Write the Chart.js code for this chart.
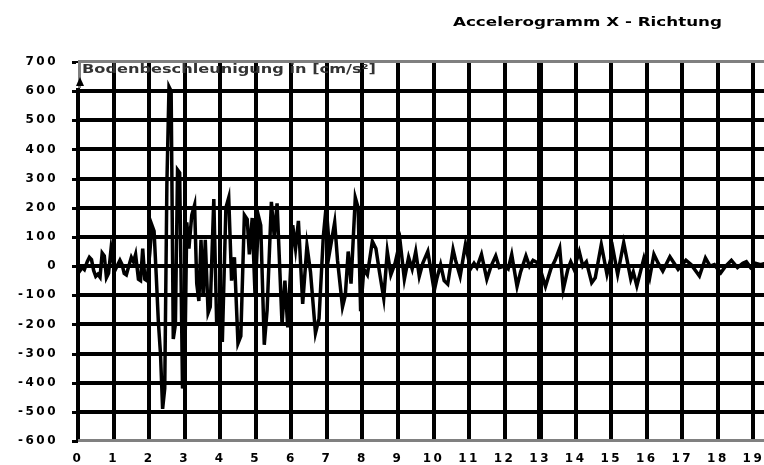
<!DOCTYPE html>
<html>
<head>
<meta charset="utf-8">
<script src="https://cdn.jsdelivr.net/npm/chart.js@4.4.0/dist/chart.umd.min.js"></script>
<style>
  html, body { margin: 0; padding: 0; background: #fff; overflow: hidden; }
  #wrap { position: relative; width: 800px; height: 465px; }
</style>
</head>
<body>
<div id="wrap"><canvas id="accChart"></canvas></div>
<script>
const chartTitle = 'Accelerogramm X - Richtung';
const axisLabel = 'Bodenbeschleunigung in [cm/s²]';

// time in s
const times = [
  0.00, 0.06, 0.12, 0.18, 0.26, 0.32, 0.38, 0.44, 0.50, 0.56, 0.62, 0.68, 0.74, 0.80, 0.86, 0.93, 0.98,
  1.04, 1.10, 1.18, 1.24, 1.30, 1.36, 1.44, 1.50, 1.56, 1.62, 1.70, 1.76, 1.82, 1.88, 1.94,
  2.02, 2.08, 2.14, 2.20, 2.26, 2.32, 2.38, 2.44, 2.50, 2.56, 2.62, 2.68, 2.74, 2.80, 2.86, 2.94,
  3.00, 3.06, 3.12, 3.20, 3.28, 3.34, 3.40, 3.46, 3.52, 3.58, 3.66, 3.72, 3.82, 3.90, 3.96,
  4.06, 4.16, 4.24, 4.32, 4.40, 4.50, 4.58, 4.68, 4.76, 4.82, 4.90, 4.98,
  5.08, 5.14, 5.24, 5.32, 5.44, 5.52, 5.60, 5.74, 5.82, 5.90,
  6.04, 6.12, 6.20, 6.32, 6.44, 6.54, 6.68, 6.78, 6.90, 6.98,
  7.08, 7.22, 7.30, 7.44, 7.52, 7.60, 7.68, 7.80, 7.88, 7.95,
  8.04, 8.14, 8.28, 8.38, 8.48, 8.60, 8.70, 8.80, 8.92,
  9.06, 9.18, 9.30, 9.40, 9.50, 9.60, 9.70, 9.84,
  10.02, 10.10, 10.20, 10.30, 10.40, 10.55, 10.62, 10.75, 10.90,
  11.04, 11.14, 11.22, 11.35, 11.50, 11.62, 11.75, 11.85,
  12.00, 12.10, 12.20, 12.35, 12.45, 12.60, 12.70, 12.80, 12.95,
  13.15, 13.30, 13.42, 13.55, 13.65, 13.78, 13.86, 13.95,
  14.10, 14.20, 14.30, 14.45, 14.55, 14.72, 14.88,
  15.05, 15.18, 15.35, 15.55, 15.62, 15.72, 15.92,
  16.08, 16.20, 16.32, 16.45, 16.65, 16.88,
  17.10, 17.25, 17.48, 17.65, 17.78, 17.90,
  18.08, 18.22, 18.38, 18.55, 18.70, 18.80, 18.92,
  19.05, 19.20, 19.35
];

// ground acceleration in cm/s²
const accel = [
  -5, -15, -5, -12, 15, 30, 22, -15, -35, -28, -38, 45, 35, -40, -25, 60, 20,
  -15, 0, 20, 5, -25, -30, 5, 30, 15, 40, -45, -50, 60, -45, -50,
  45, 140, 120, -30, -190, -300, -490, -420, 280, 615, 600, -250, -200, 330, 320, -420,
  -380, 150, 60, 175, 210, -60, -120, 90, -105, 90, -160, -140, 230, -195, -150,
  -260, 200, 235, -50, 30, -265, -240, 175, 160, 40, 165, -100,
  170, 140, -270, -150, 220, 100, 215, -200, -50, -210,
  140, 60, 155, -130, 70, -20, -230, -180, 100, 205,
  50, 150, 20, -140, -100, 50, -60, 235, 200, -155,
  -10, -30, 85, 60, -20, -110, 50, -30, 10,
  85, -45, 30, -10, 50, -35, 10, 50,
  -85, -40, 5, -50, -62, 57, 20, -35, 75,
  -10, 10, -5, 40, -45, 0, 35, -5,
  0, -10, 40, -70, -20, 35, 0, 20, 10,
  -70, -10, 20, 62, -80, -10, 15, -10,
  50, 0, 15, -57, -40, 74, -28,
  57, -28, 80, -45, -20, -68, 28,
  -40, 40, 10, -17, 32, -11,
  20, 5, -34, 28, 0, 5,
  -23, 0, 20, -5, 10, 15, -5,
  10, 5, 10
];

const xTicks = [0, 1, 2, 3, 4, 5, 6, 7, 8, 9, 10, 11, 12, 13, 14, 15, 16, 17, 18, 19];
const yTicks = [700, 600, 500, 400, 300, 200, 100, 0, -100, -200, -300, -400, -500, -600];

const GREY = '#808080';

// heavy black grid, grey frame lines top and bottom, short tick marks on the y axis
const gridPlugin = {
  id: 'heavyGrid',
  beforeDatasetsDraw(chart) {
    const { ctx, chartArea: a, scales: { x, y } } = chart;
    const top = Math.round(a.top);
    const bottom = Math.round(a.bottom);
    const left = Math.round(a.left);
    const right = Math.round(a.right);
    ctx.save();
    ctx.fillStyle = '#000';
    xTicks.forEach(v => {
      const px = Math.round(x.getPixelForValue(v));
      const w = v === 13 ? 6 : 4;
      ctx.fillRect(px - w / 2, top, w, bottom - top);
    });
    yTicks.forEach(v => {
      const py = Math.round(y.getPixelForValue(v));
      const edge = v === 700 || v === -600;
      ctx.fillStyle = edge ? GREY : '#000';
      ctx.fillRect(left, py - 2, right - left, edge ? 3 : 4);
      ctx.fillStyle = '#000';
      ctx.fillRect(left - 6, py - 1, 6, 3);
    });
    ctx.restore();
  }
};

// draw a string stretched horizontally to a given width
function wideText(ctx, text, x, y, width) {
  const w = ctx.measureText(text).width;
  ctx.save();
  ctx.translate(x, y);
  ctx.scale(width / w, 1);
  ctx.fillText(text, 0, 0);
  ctx.restore();
}

// title, axis caption and the little arrow at the top of the y axis
const decorPlugin = {
  id: 'decor',
  beforeDraw(chart) {
    chart.ctx.letterSpacing = '2.5px';
  },
  afterDraw(chart) {
    const ctx = chart.ctx;
    const area = chart.chartArea;
    const y600 = Math.round(chart.scales.y.getPixelForValue(600));
    const left = Math.round(area.left);
    const top = Math.round(area.top);
    ctx.save();
    ctx.letterSpacing = '0px';

    ctx.fillStyle = '#fff';
    ctx.fillRect(left - 2, top + 1, 5, y600 - top - 4);
    ctx.fillStyle = GREY;
    ctx.fillRect(left, top, 3, y600 - top - 3);
    ctx.fillStyle = '#000';
    ctx.beginPath();
    ctx.moveTo(left + 2, top + 15);
    ctx.lineTo(left + 6, top + 24);
    ctx.lineTo(left - 2, top + 24);
    ctx.closePath();
    ctx.fill();

    ctx.textBaseline = 'middle';
    ctx.textAlign = 'left';
    ctx.fillStyle = '#333';
    ctx.font = 'bold 12px "DejaVu Sans"';
    wideText(ctx, axisLabel, left + 4, top + 8, 294);

    ctx.fillStyle = '#000';
    ctx.font = 'bold 13px "DejaVu Sans"';
    wideText(ctx, chartTitle, 453, 23, 269);
    ctx.restore();
  }
};

const points = times.map((t, i) => ({ x: t, y: accel[i] }));

new Chart(document.getElementById('accChart'), {
  type: 'line',
  data: {
    datasets: [{
      data: points,
      borderColor: '#000',
      borderWidth: 3.5,
      pointRadius: 0,
      tension: 0,
      fill: false
    }]
  },
  options: {
    responsive: true,
    maintainAspectRatio: false,
    animation: false,
    devicePixelRatio: 1,
    layout: { padding: { top: 62, right: 0, bottom: 0, left: 0 } },
    plugins: {
      legend: { display: false },
      tooltip: { enabled: false },
      title: { display: false }
    },
    scales: {
      x: {
        type: 'linear',
        min: 0,
        max: 20.03,
        afterFit: s => { s.height = 24; },
        ticks: {
          stepSize: 1,
          includeBounds: false,
          autoSkip: false,
          maxRotation: 0,
          padding: 11,
          color: '#000',
          font: { family: 'DejaVu Sans', size: 12, weight: 'bold' },
          callback: v => xTicks.includes(v) ? String(v) : ''
        },
        grid: { display: false, drawTicks: false },
        border: { display: false }
      },
      y: {
        min: -600,
        max: 700,
        afterFit: s => { s.width = 78; },
        ticks: {
          stepSize: 100,
          padding: 14,
          color: '#000',
          font: { family: 'DejaVu Sans', size: 12, weight: 'bold' },
          callback: v => yTicks.includes(v) ? String(v) : ''
        },
        grid: { display: false, drawTicks: true, tickLength: 6 },
        border: { display: false }
      }
    }
  },
  plugins: [gridPlugin, decorPlugin]
});
</script>
</body>
</html>
